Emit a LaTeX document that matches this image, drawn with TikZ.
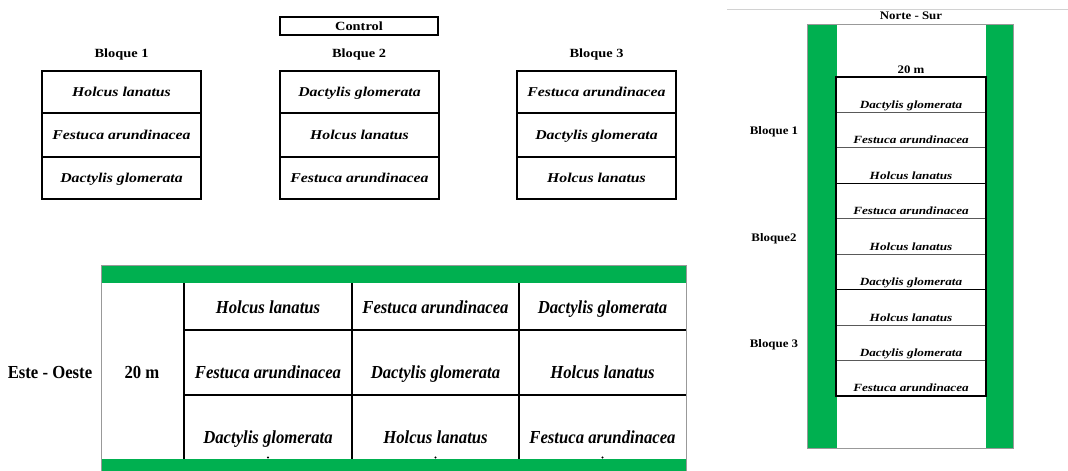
\documentclass[tikz,border=0pt]{standalone}
\usepackage{fontspec}
\setmainfont{Liberation Serif}
\definecolor{xgreen}{RGB}{0,176,80}
\newcommand{\tsp}[1]{\scalebox{1.17}[1]{\fontsize{13.5}{15}\selectfont\bfseries\itshape #1}}
\newcommand{\tlb}[1]{\scalebox{1.15}[1]{\fontsize{12.5}{14}\selectfont\bfseries #1}}
\newcommand{\bsp}[1]{\scalebox{1}[1.1]{\fontsize{16.7}{18}\selectfont\bfseries\itshape #1}}
\newcommand{\blb}[1]{\scalebox{1}[1.1]{\fontsize{16.7}{18}\selectfont\bfseries #1}}
\newcommand{\rsp}[1]{\scalebox{1.2}[1]{\fontsize{11}{12}\selectfont\bfseries\itshape #1}}
\newcommand{\rlb}[1]{\scalebox{1.12}[1]{\fontsize{11.5}{13}\selectfont\bfseries #1}}
\begin{document}
\begin{tikzpicture}[x=1pt,y=-1pt,
  txt/.style={inner sep=0pt,anchor=base},
  cell/.style={draw=black,line width=1.6pt},
  thin/.style={draw=black,line width=1.1pt},
  frame/.style={draw=gray!80,line width=0.9pt},
  greenfill/.style={fill=xgreen}]
\useasboundingbox (0,0) rectangle (1068,471);
% ---------- Top: Control + three blocks ----------
\draw[black,line width=1.4pt] (280,17) rectangle (438,35);
\node[txt] (control) at (359,30.5) {\tlb{Control}};
\node[txt] (bq1) at (121.5,57.5) {\tlb{Bloque 1}};
\node[txt] (bq2) at (359,57.5) {\tlb{Bloque 2}};
\node[txt] (bq3) at (596.5,57.5) {\tlb{Bloque 3}};
\foreach \bx in {42,280,517}{
  \draw[cell] (\bx,71) rectangle ++(159,128);
  \draw[cell] (\bx,113) -- ++(159,0);
  \draw[cell] (\bx,157) -- ++(159,0);
}
\node[txt] (a1) at (121.5,96.5) {\tsp{Holcus lanatus}};
\node[txt] (a2) at (121.5,139.5) {\tsp{Festuca arundinacea}};
\node[txt] (a3) at (121.5,182.5) {\tsp{Dactylis glomerata}};
\node[txt] (b1) at (359.5,96.5) {\tsp{Dactylis glomerata}};
\node[txt] (b2) at (359.5,139.5) {\tsp{Holcus lanatus}};
\node[txt] (b3) at (359.5,182.5) {\tsp{Festuca arundinacea}};
\node[txt] (c1) at (596.5,96.5) {\tsp{Festuca arundinacea}};
\node[txt] (c2) at (596.5,139.5) {\tsp{Dactylis glomerata}};
\node[txt] (c3) at (596.5,182.5) {\tsp{Holcus lanatus}};
% ---------- Bottom: Este - Oeste ----------
\fill[white] (101,265) rectangle (686,471);
\fill[greenfill] (101,265) rectangle (686,283);
\fill[greenfill] (101,459) rectangle (686,471);
\draw[frame] (101,471) -- (101,265) -- (686,265) -- (686,471);
\draw[thin] (184,330) -- (686,330);
\draw[thin] (184,395) -- (686,395);
\foreach \vx in {184,352,519}{
  \draw[black,line width=2.4pt] (\vx,283) -- (\vx,459);
}
\foreach \dx in {268,435.5,602.5}{
  \fill[black] (\dx,457.5) circle (1.1pt);
}
\node[txt] (eo) at (50,378) {\blb{Este - Oeste}};
\node[txt] (ew) at (142,378) {\blb{20 m}};
\node[txt] (e11) at (268,313) {\bsp{Holcus lanatus}};
\node[txt] (e12) at (435.5,313) {\bsp{Festuca arundinacea}};
\node[txt] (e13) at (602.5,313) {\bsp{Dactylis glomerata}};
\node[txt] (e21) at (268,378) {\bsp{Festuca arundinacea}};
\node[txt] (e22) at (435.5,378) {\bsp{Dactylis glomerata}};
\node[txt] (e23) at (602.5,378) {\bsp{Holcus lanatus}};
\node[txt] (e31) at (268,443) {\bsp{Dactylis glomerata}};
\node[txt] (e32) at (435.5,443) {\bsp{Holcus lanatus}};
\node[txt] (e33) at (602.5,443) {\bsp{Festuca arundinacea}};
% ---------- Right: Norte - Sur ----------
\draw[gray!35,line width=0.8pt] (727,9) -- (1068,9);
\node[txt] (ns) at (911,19.5) {\rlb{Norte - Sur}};
\fill[white] (807,24) rectangle (1013,448);
\fill[greenfill] (807,24) rectangle (837,448);
\fill[greenfill] (986,24) rectangle (1013,448);
\draw[frame] (807,24) rectangle (1013,448);
\node[txt] (nw) at (911,73.5) {\rlb{20 m}};
\foreach \i in {1,...,8}{
  \draw[gray!70!black,line width=0.9pt] (836,{77+\i*35.44}) -- (986,{77+\i*35.44});
}
\draw[black,line width=1.3pt] (836,183.3) -- (986,183.3);
\draw[black,line width=1.3pt] (836,289.6) -- (986,289.6);
\draw[black,line width=1.5pt] (836,77) rectangle (986,396);
\foreach \i/\t/\nm in {1/Dactylis glomerata/r1,2/Festuca arundinacea/r2,3/Holcus lanatus/r3,
  4/Festuca arundinacea/r4,5/Holcus lanatus/r5,6/Dactylis glomerata/r6,
  7/Holcus lanatus/r7,8/Dactylis glomerata/r8,9/Festuca arundinacea/r9}{
  \node[txt] (\nm) at (911,{77+\i*35.44-4}) {\rsp{\t}};
}
\node[txt] (nb1) at (774,134) {\rlb{Bloque 1}};
\node[txt] (nb2) at (774,241) {\rlb{Bloque2}};
\node[txt] (nb3) at (774,347) {\rlb{Bloque 3}};
\end{tikzpicture}
\end{document}
